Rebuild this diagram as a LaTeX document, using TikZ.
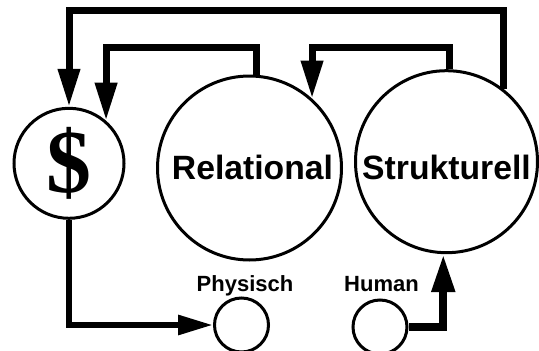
\documentclass[tikz,border=0pt]{standalone}
\usepackage{fontspec}
\setmainfont{Liberation Sans}
\newfontfamily\dollarfont{Liberation Serif}
\usetikzlibrary{arrows.meta}
\begin{document}
\begin{tikzpicture}[x=1pt,y=-1pt,
  ring/.style={circle,draw,line width=3pt,inner sep=0pt},
  bigword/.style={anchor=base,inner sep=0pt,font=\bfseries\fontsize{33.7}{34}\selectfont},
  smallword/.style={anchor=base,inner sep=0pt,font=\bfseries\fontsize{22}{22}\selectfont},
  feedback/.style={line width=7pt,-{Triangle[length=38pt,width=21pt]}},
  spend/.style={line width=6pt,-{Triangle[length=35pt,width=19pt]}},
  feed/.style={line width=8pt,-{Triangle[length=38pt,width=22pt]}}
]
\useasboundingbox (0,0) rectangle (539,351);

% capital circles
\node[ring,minimum size=110pt,font=\dollarfont\bfseries\fontsize{90}{90}\selectfont] (dollar) at (69,163.3) {\$};
\node[ring,minimum size=184pt] (rel) at (249.5,168) {};
\node[ring,minimum size=182pt] (str) at (446.5,161.7) {};
\node[bigword] (reltext) at (252.5,179) {Relational};
\node[bigword] (strtext) at (446.5,179) {Strukturell};

% small circles with their labels
\node[ring,minimum size=54pt] (phys) at (241.5,325) {};
\node[ring,minimum size=54pt] (hum) at (380,327) {};
\node[smallword] (physlabel) at (245,291.5) {Physisch};
\node[smallword] (humlabel) at (381.5,291.5) {Human};

% levels of the return lines
\coordinate (top1) at (0,10.7);
\coordinate (top2) at (0,47);

% return flows
\draw[feedback] (str.52) -- (str.52 |- top1) -- (dollar.north |- top1) -- (dollar.north);
\draw[feedback] (rel.86) -- (rel.86 |- top2) -- (dollar.49 |- top2) -- (dollar.49);
\draw[feedback] (str.88) -- (str.88 |- top2) -- (rel.48 |- top2) -- (rel.48);

% investment and input flows
\draw[spend] (dollar.south) |- (phys.west);
\draw[feed] (hum.east) -| (str.268);
\end{tikzpicture}
\end{document}
